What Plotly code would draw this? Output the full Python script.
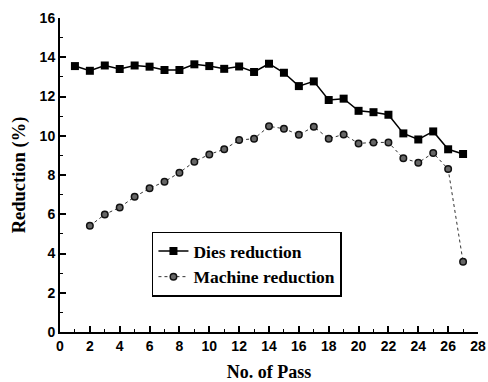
import plotly.graph_objects as go

passes_dies = list(range(1, 28))
dies_reduction = [13.55, 13.31, 13.58, 13.40, 13.58, 13.52, 13.35, 13.35, 13.64, 13.55,
                  13.41, 13.53, 13.25, 13.67, 13.21, 12.53, 12.77, 11.82, 11.89, 11.27,
                  11.20, 11.07, 10.12, 9.81, 10.22, 9.31, 9.07]
passes_machine = list(range(2, 28))
machine_reduction = [5.41, 5.99, 6.35, 6.89, 7.32, 7.66, 8.12, 8.68, 9.05, 9.31,
                     9.78, 9.85, 10.48, 10.36, 10.05, 10.46, 9.85, 10.07, 9.61, 9.66,
                     9.66, 8.85, 8.63, 9.12, 8.30, 3.58]

fig = go.Figure()
fig.add_trace(go.Scatter(
    x=passes_dies, y=dies_reduction, mode="lines+markers", name="Dies reduction",
    line=dict(color="black", width=1.5),
    marker=dict(symbol="square", size=8, color="black"),
))
fig.add_trace(go.Scatter(
    x=passes_machine, y=machine_reduction, mode="lines+markers", name="Machine reduction",
    line=dict(color="#333333", width=1, dash="dot"),
    marker=dict(symbol="circle", size=6.5, color="#666666", line=dict(color="#111111", width=1.5)),
))

def axis_common():
    return dict(
        showline=True, linecolor="black", linewidth=2, mirror=False,
        ticks="inside", ticklen=6, tickwidth=1.5, tickcolor="black",
        showgrid=False, zeroline=False, automargin=False,
        tickfont=dict(family="Liberation Sans", size=14, color="black", weight="bold"),
        minor=dict(ticks="inside", ticklen=3, tickwidth=1.2, tickcolor="black", dtick=1),
    )

fig.update_xaxes(
    range=[0, 28], tick0=0, dtick=2, **axis_common(),
    title=dict(text="<b>No. of Pass</b>", font=dict(family="Liberation Serif", size=18, color="black"), standoff=15),
)
fig.update_yaxes(
    range=[0, 16], tick0=0, dtick=2, **axis_common(),
    title=dict(text="<b>Reduction (%)</b>", font=dict(family="Liberation Serif", size=18.5, color="black"), standoff=9),
)

fig.update_layout(
    width=488, height=382,
    margin=dict(l=60, r=10, t=18, b=50),
    plot_bgcolor="white", paper_bgcolor="white",
    showlegend=True,
    legend=dict(
        x=0.22, y=0.32, xanchor="left", yanchor="top",
        bordercolor="black", borderwidth=1.5, bgcolor="white",
        font=dict(family="Liberation Serif", size=17.5, color="black", weight="bold"),
        tracegroupgap=0, entrywidth=178,
    ),
)

fig.write_html("out.html")
